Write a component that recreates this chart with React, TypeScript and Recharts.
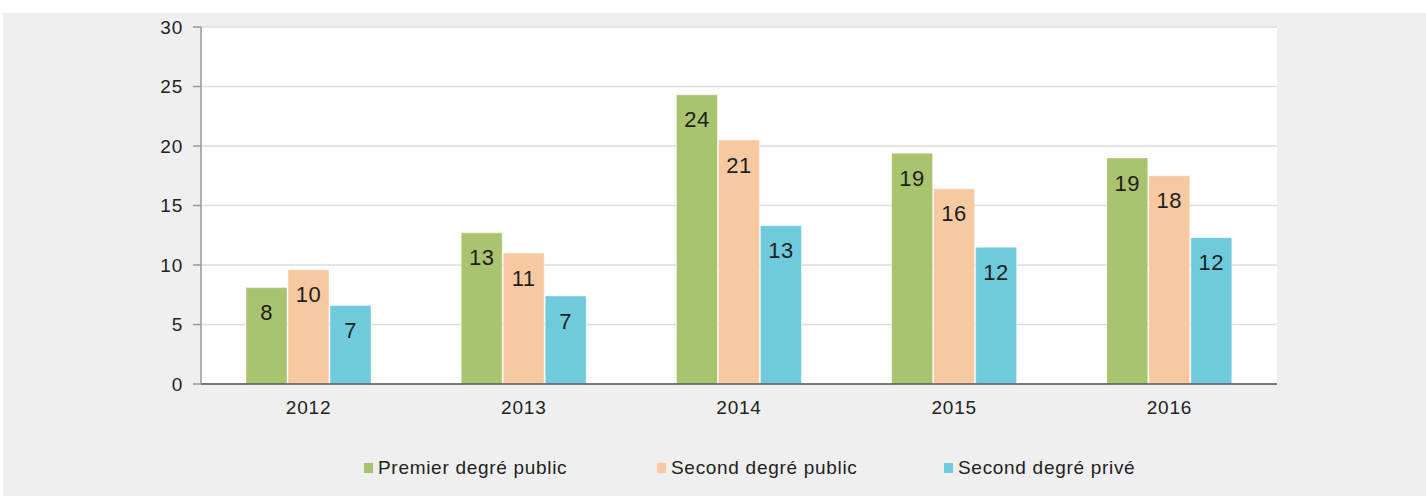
import { BarChart, Bar, XAxis, YAxis, CartesianGrid, Legend, LabelList } from 'recharts';

const years = ['2012', '2013', '2014', '2015', '2016'];
const premierPublic = [8.1, 12.7, 24.3, 19.4, 19.0];
const secondPublic = [9.6, 11.0, 20.5, 16.4, 17.5];
const secondPrive = [6.6, 7.4, 13.3, 11.5, 12.3];
const yTicks = [0, 5, 10, 15, 20, 25, 30];

const series = [
  { key: 'premier', label: 'Premier degré public', color: '#a9c46f' },
  { key: 'secondPub', label: 'Second degré public', color: '#f7c9a0' },
  { key: 'secondPriv', label: 'Second degré privé', color: '#6fcadb' },
];

const data = years.map((y, i) => ({
  year: y,
  premier: premierPublic[i],
  secondPub: secondPublic[i],
  secondPriv: secondPrive[i],
}));

const FONT = '"Liberation Sans", Arial, sans-serif';

function renderLegend() {
  const widths = [293, 287, 290];
  return (
    <div style={{ display: 'flex', alignItems: 'center', paddingLeft: 361, height: 24, fontFamily: FONT }}>
      {series.map((s, i) => (
        <div key={s.key} style={{ display: 'flex', alignItems: 'center', width: widths[i] }}>
          <span style={{ width: 9, height: 10, background: s.color, marginRight: 5, display: 'inline-block' }} />
          <span style={{ fontSize: 19, letterSpacing: 0.7, color: '#222' }}>{s.label}</span>
        </div>
      ))}
    </div>
  );
}

export default function App() {
  return (
    <div style={{ width: 1426, height: 496, position: 'relative', background: '#fff' }}>
      <style>{'body{margin:0}'}</style>
      <div style={{ position: 'absolute', left: 3, top: 13, width: 1423, height: 483, background: '#efefef' }}>
        <BarChart
          width={1423}
          height={483}
          data={data}
          margin={{ top: 14, right: 149, left: 0, bottom: 82 }}
          barGap={1}
          barSize={41}
        >
          <CartesianGrid vertical={false} stroke="#dddddd" strokeWidth={1.5} fill="#ffffff" />
          <XAxis
            dataKey="year"
            height={30}
            tickLine={false}
            tickSize={0}
            tickMargin={17}
            axisLine={{ stroke: '#555', strokeWidth: 1.5 }}
            tick={{ fontSize: 19, letterSpacing: 0.8, fill: '#222', fontFamily: FONT }}
          />
          <YAxis
            width={198}
            domain={[0, 30]}
            ticks={yTicks}
            interval={0}
            tickSize={8}
            tickMargin={10}
            axisLine={{ stroke: '#999', strokeWidth: 1.5 }}
            tickLine={{ stroke: '#999', strokeWidth: 1.5 }}
            tick={{ fontSize: 19, letterSpacing: 0.8, fill: '#222', fontFamily: FONT }}
          />
          <Legend
            layout="horizontal"
            verticalAlign="middle"
            align="center"
            content={renderLegend}
            wrapperStyle={{ top: 443, left: 0, width: 1423 }}
          />
          {series.map(s => (
            <Bar
              key={s.key}
              dataKey={s.key}
              name={s.label}
              fill={s.color}
              stroke="#ffffff"
              strokeOpacity={0.45}
              strokeWidth={1}
              isAnimationActive={false}
            >
              <LabelList
                dataKey={s.key}
                position="insideTop"
                offset={17}
                formatter={(v: number) => Math.round(v)}
                style={{ fontSize: 22, letterSpacing: 0.5, fill: '#1e1e1e', fontFamily: FONT }}
              />
            </Bar>
          ))}
        </BarChart>
      </div>
    </div>
  );
}
